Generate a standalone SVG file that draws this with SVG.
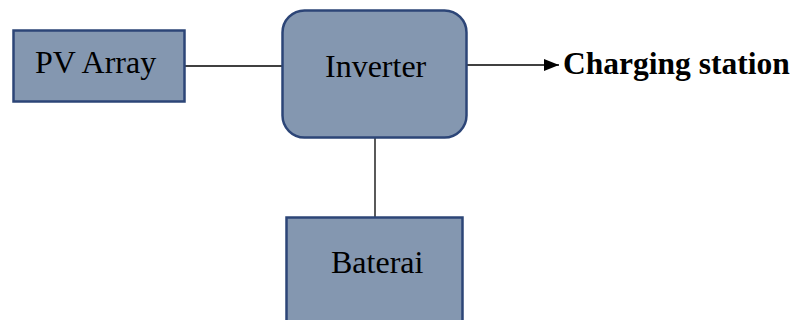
<svg xmlns="http://www.w3.org/2000/svg" width="795" height="320" viewBox="0 0 795 320">
<style>
.box{fill:#8497B0;stroke:#2C4577;stroke-width:2.5}
.lbl{font-family:"Liberation Serif","Times New Roman",serif;font-size:32px;fill:#000}
.bold{font-weight:bold;font-size:31.5px}
.conn{stroke:#000;stroke-width:1.3;fill:none}
</style>
<defs>
<marker id="arr" markerWidth="16" markerHeight="12" refX="15" refY="6" orient="auto" markerUnits="userSpaceOnUse">
<path d="M0,0 L15,6 L0,12 Z" fill="#000"/>
</marker>
</defs>
<rect width="795" height="320" fill="#fff"/>
<g id="connectors">
<line class="conn" x1="185" y1="66" x2="282" y2="66"/>
<line class="conn" x1="467" y1="65" x2="559" y2="65" marker-end="url(#arr)"/>
<line class="conn" x1="375" y1="138" x2="375" y2="217"/>
</g>
<g id="pv-array">
<rect class="box" x="13.5" y="30.5" width="171" height="71"/>
<text class="lbl" x="35" y="72.5">PV Array</text>
</g>
<g id="inverter">
<rect class="box" x="282.5" y="10.5" width="184" height="127" rx="22" ry="22"/>
<text class="lbl" x="325" y="76.5">Inverter</text>
</g>
<g id="baterai">
<rect class="box" x="286.5" y="217.5" width="176" height="110"/>
<text class="lbl" x="331" y="272.5">Baterai</text>
</g>
<g id="charging-station">
<text class="lbl bold" x="563" y="73.5">Charging station</text>
</g>
</svg>
